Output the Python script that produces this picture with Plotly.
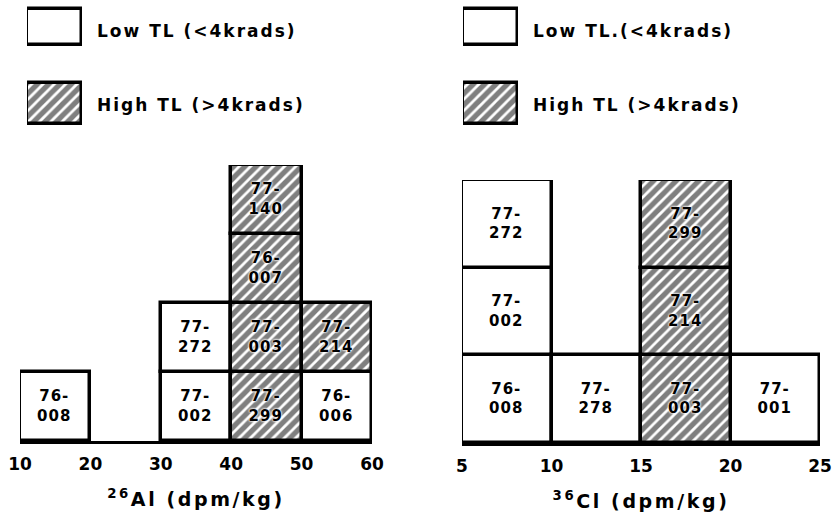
import plotly.graph_objects as go

# ---------------- data ----------------
# 26Al panel (bin edges 10 units wide)
al_bin_left = [10, 30, 30, 40, 40, 40, 40, 50, 50]
al_level = [0, 0, 1, 0, 1, 2, 3, 0, 1]
al_labels = ["76-<br>008", "77-<br>002", "77-<br>272", "77-<br>299", "77-<br>003",
             "76-<br>007", "77-<br>140", "76-<br>006", "77-<br>214"]
al_high = [False, False, False, True, True, True, True, False, True]
al_bin_width = 10
al_ticks = [10, 20, 30, 40, 50, 60]

# 36Cl panel (bin edges 5 units wide)
cl_bin_left = [5, 5, 5, 10, 15, 15, 15, 20]
cl_level = [0, 1, 2, 0, 0, 1, 2, 0]
cl_labels = ["76-<br>008", "77-<br>002", "77-<br>272", "77-<br>278", "77-<br>003",
             "77-<br>214", "77-<br>299", "77-<br>001"]
cl_high = [False, False, False, False, True, True, True, False]
cl_bin_width = 5
cl_ticks = [5, 10, 15, 20, 25]

legend_labels_left = ["Low TL (<4krads)", "High TL (>4krads)"]
legend_labels_right = ["Low TL.(<4krads)", "High TL (>4krads)"]

# ---------------- styling ----------------
W, H = 836, 520
FONT = "DejaVu Sans"
LW = 3.5


def px_x(p):
    return p / W


def px_y(p):
    return 1 - p / H


def spaced(t, ls=2):
    return '<span style="letter-spacing:%spx">%s</span>' % (ls, t)


def hatch(is_high):
    return dict(shape="/" if is_high else "", fgcolor="black", bgcolor="white",
                size=8, solidity=0.65, fillmode="overlay")


fig = go.Figure()


def add_panel(bin_left, level, labels, high, width, xa, ya):
    for grp in (False, True):
        idx = [i for i in range(len(labels)) if high[i] == grp]
        fig.add_trace(go.Bar(
            x=[bin_left[i] + width / 2 for i in idx],
            y=[1] * len(idx),
            base=[level[i] for i in idx],
            width=[width] * len(idx),
            text=[spaced(labels[i], 1) for i in idx],
            textposition="inside",
            insidetextanchor="middle",
            textangle=0,
            constraintext="none",
            textfont=dict(family=FONT, size=15, color="black", weight="bold",
                          shadow="0 0 2px white, 0 0 2px white, 0 0 3px white"),
            marker=dict(color="white", line=dict(color="black", width=LW),
                        pattern=hatch(grp)),
            xaxis=xa, yaxis=ya, showlegend=False, hoverinfo="skip",
        ))


add_panel(al_bin_left, al_level, al_labels, al_high, al_bin_width, "x", "y")
add_panel(cl_bin_left, cl_level, cl_labels, cl_high, cl_bin_width, "x2", "y2")

# legend swatches (drawn on small hidden axes, y measured downward)
for xa, ya in (("x3", "y3"), ("x4", "y4")):
    for is_high, base, h in ((False, 9, 36), (True, 83, 41)):
        fig.add_trace(go.Bar(
            x=[0.5], y=[h], base=[base], width=[1],
            marker=dict(color="white", line=dict(color="black", width=LW),
                        pattern=hatch(is_high)),
            xaxis=xa, yaxis=ya, showlegend=False, hoverinfo="skip",
        ))

axis_common = dict(showgrid=False, zeroline=False, ticks="", showline=False)
tickfont = dict(family=FONT, size=17, weight="bold", color="black")
titlefont = dict(family=FONT, size=19, weight="bold", color="black")
xcommon = dict(tickfont=tickfont, automargin=False, ticklabelstandoff=6,
               showline=True, linecolor="black", linewidth=2.5,
               showgrid=False, zeroline=False, ticks="")
fig.update_layout(
    width=W, height=H,
    margin=dict(l=0, r=0, t=0, b=0, autoexpand=False),
    paper_bgcolor="white", plot_bgcolor="rgba(0,0,0,0)",
    barmode="overlay", bargap=0,
    font=dict(family=FONT, color="black"),
    xaxis=dict(domain=[px_x(20), px_x(372)], range=[10, 60], anchor="y",
               tickvals=al_ticks, ticktext=[str(t) for t in al_ticks],
               title=dict(text=spaced("<sup>26</sup>Al (dpm/kg)", 2.6),
                          font=titlefont, standoff=20), **xcommon),
    yaxis=dict(domain=[px_y(441), px_y(165)], range=[0, 4], anchor="x",
               visible=False, **axis_common),
    xaxis2=dict(domain=[px_x(462), px_x(820)], range=[5, 25], anchor="y2",
                tickvals=cl_ticks, ticktext=[str(t) for t in cl_ticks],
                title=dict(text=spaced("<sup>36</sup>Cl (dpm/kg)", 2.6),
                           font=titlefont, standoff=20), **xcommon),
    yaxis2=dict(domain=[px_y(443), px_y(180)], range=[0, 3], anchor="x2",
                visible=False, **axis_common),
    xaxis3=dict(domain=[px_x(27), px_x(82)], range=[0, 1], anchor="y3",
                visible=False, **axis_common),
    yaxis3=dict(domain=[px_y(130), px_y(4)], range=[130, 4], anchor="x3",
                visible=False, **axis_common),
    xaxis4=dict(domain=[px_x(463), px_x(518)], range=[0, 1], anchor="y4",
                visible=False, **axis_common),
    yaxis4=dict(domain=[px_y(130), px_y(4)], range=[130, 4], anchor="x4",
                visible=False, **axis_common),
)

# legend texts
for x0, labels in ((95, legend_labels_left), (531, legend_labels_right)):
    for lab, yc in zip(labels, (31, 105)):
        fig.add_annotation(x=px_x(x0), y=px_y(yc), xref="paper", yref="paper",
                           text=spaced(lab), showarrow=False, xanchor="left",
                           yanchor="middle",
                           font=dict(family=FONT, size=17, weight="bold", color="black"))

fig.write_html("out.html", config={"displayModeBar": False},
               post_script="document.body.style.margin='0';"
                           "document.body.style.overflow='hidden';")
